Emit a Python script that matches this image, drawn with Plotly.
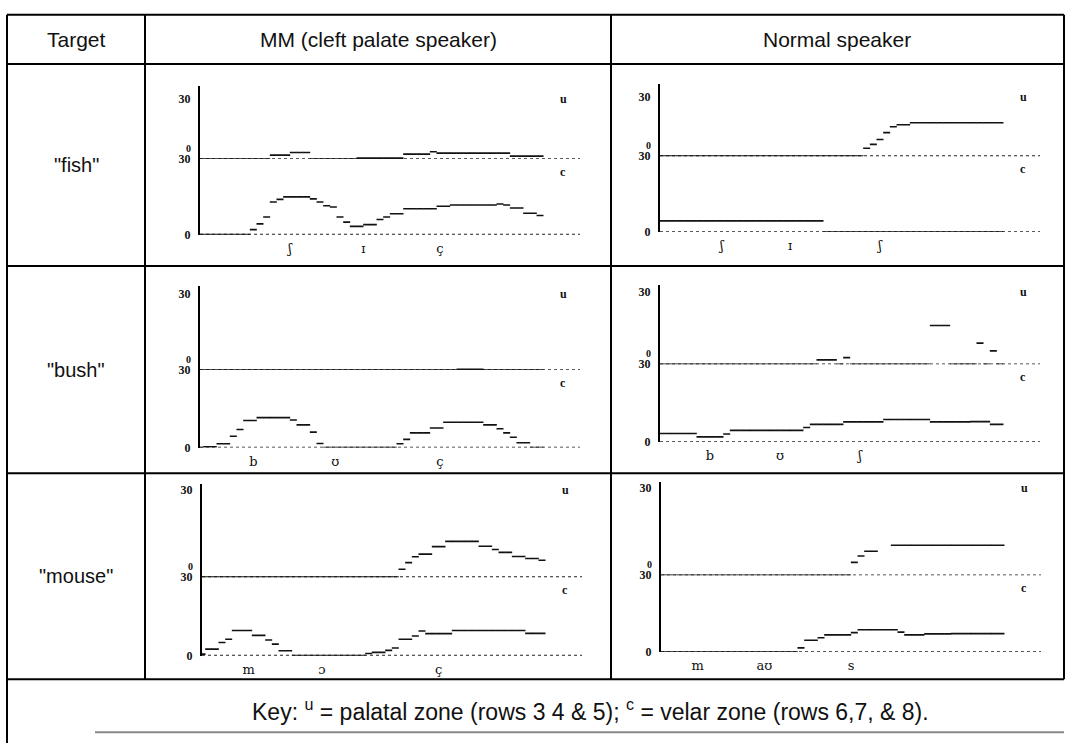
import plotly.graph_objects as go

W, H = 1068, 750

# ---------------- text ----------------
header_target = "Target"
speakers = ["MM (cleft palate speaker)", "Normal speaker"]
targets = ['"fish"', '"bush"', '"mouse"']
key_text = "Key: <sup>u</sup> = palatal zone (rows 3 4 & 5); <sup>c</sup> = velar zone (rows 6,7, & 8)."
zone_symbols = ["u", "c"]
y_tick_vals = [0, 30]
y_tick_text = ["0", "30"]

# ---------------- data: contacts per frame (0-30 scale) ----------------
fish_mm_palatal = [0, 0, 0, 0, 0, 0, 0, 0, 0, 0, 0, 2, 2, 2, 3.3, 3.3, 3.3, 0, 0, 0, 0, 0, 0, 0,
                   0.5, 0.5, 0.5, 0.5, 0.5, 0.5, 0.5, 2.5, 2.5, 2.5, 2.5, 3.7, 3, 3, 3, 3, 3, 3, 3, 3,
                   3, 3, 3, 1.5, 1.5, 1.5, 1.5, 1.5]
fish_mm_velar = [0, 0, 0, 0, 0, 0, 0, 0, 2, 4.3, 7, 13, 14, 15, 15, 15, 15, 14.2, 13, 11.5, 11, 7,
                 5, 3.3, 3.3, 4, 4, 6, 7, 8.3, 8.3, 10.3, 10.3, 10.3, 10.3, 10.3, 11.3, 11.3, 11.8,
                 11.8, 11.8, 11.8, 11.8, 11.8, 11.8, 12.2, 11.8, 10.6, 10.6, 8.5, 8.5, 7.6]
fish_n_palatal = [0, 0, 0, 0, 0, 0, 0, 0, 0, 0, 0, 0, 0, 0, 0, 0, 0, 0, 0, 0, 0, 0, 0, 0, 0, 0, 0,
                  0, 0, 0, 0, 4, 6, 8.5, 12, 15, 16, 16, 17, 17, 17, 17, 17, 17, 17, 17, 17, 17, 17,
                  17, 17, 17]
fish_n_velar = [4.3, 4.3, 4.3, 4.3, 4.3, 4.3, 4.3, 4.3, 4.3, 4.3, 4.3, 4.3, 4.3, 4.3, 4.3, 4.3, 4.3,
                4.3, 4.3, 4.3, 4.3, 4.3, 4.3, 4.3, 4.3, 0, 0, 0, 0, 0, 0, 0, 0, 0, 0, 0, 0, 0, 0, 0,
                0, 0, 0, 0, 0, 0, 0, 0, 0, 0, 0, 0]
bush_mm_palatal = [0, 0, 0, 0, 0, 0, 0, 0, 0, 0, 0, 0, 0, 0, 0, 0, 0, 0, 0, 0, 0, 0, 0, 0, 0, 0,
                   0, 0, 0, 0, 0, 0, 0, 0, 0, 0, 0, 0, 0, 0.3, 0.3, 0.3, 0.3, 0, 0, 0, 0, 0, 0, 0,
                   0, 0]
bush_mm_velar = [0, 0.3, 0.3, 1.5, 1.5, 4.4, 7, 10.5, 10.5, 11.6, 11.6, 11.6, 11.6, 11.6, 10.7, 8.8,
                 8.8, 6, 1.6, 0, 0, 0, 0, 0, 0, 0, 0, 0, 0, 0, 1.5, 3.2, 5.7, 5.7, 5.7, 7.6, 7.6,
                 9.8, 9.8, 9.8, 9.8, 9.8, 9.8, 8.8, 8.8, 7.3, 5.7, 4, 1.9, 1.9, 0, 0]
bush_n_palatal = [0, 0, 0, 0, 0, 0, 0, 0, 0, 0, 0, 0, 0, 0, 0, 0, 0, 0, 0, 0, 0, 0, 0, 0, 1.8, 1.8,
                  1.8, 0, 2.7, 0, 0, 0, 0, 0, 0, 0, 0, 0, 0, 0, 0, 16, 16, 16, 0, 0, 0, 0, 8.7, 0,
                  5.5, 0]
bush_n_velar = [3.2, 3.2, 3.2, 3.2, 3.2, 3.2, 1.9, 1.9, 1.9, 1.9, 3, 4.4, 4.4, 4.4, 4.4, 4.4, 4.4,
                4.4, 4.4, 4.4, 4.4, 4.4, 5.5, 6.7, 6.7, 6.7, 6.7, 6.7, 7.7, 7.7, 7.7, 7.7, 7.7, 7.7,
                8.6, 8.6, 8.6, 8.6, 8.6, 8.6, 8.6, 7.7, 7.7, 7.7, 7.7, 7.7, 7.7, 7.8, 7.8, 7.8,
                6.7, 6.7]
mouse_mm_palatal = [0, 0, 0, 0, 0, 0, 0, 0, 0, 0, 0, 0, 0, 0, 0, 0, 0, 0, 0, 0, 0, 0, 0, 0, 0, 0,
                    0, 0, 0, 0, 2.7, 5, 7, 7.9, 7.9, 10.5, 10.5, 12.3, 12.3, 12.3, 12.3, 12.3, 10.6,
                    10.6, 9.5, 8.5, 8.5, 7.1, 7.1, 6.4, 6.4, 5.8]
mouse_mm_velar = [0.6, 2.5, 2.5, 5, 6.25, 9.6, 9.6, 9.6, 7.75, 7.75, 6, 4.4, 1.9, 1.9, 0, 0, 0, 0,
                  0, 0, 0, 0, 0, 0, 0, 0.8, 1.25, 1.25, 2, 2.9, 6.25, 6.25, 7.5, 9.4, 8.4, 8.4, 8.4,
                  8.4, 9.6, 9.6, 9.6, 9.6, 9.6, 9.6, 9.6, 9.6, 9.6, 9.6, 9.6, 8.5, 8.5, 8.5]
mouse_n_palatal = [0, 0, 0, 0, 0, 0, 0, 0, 0, 0, 0, 0, 0, 0, 0, 0, 0, 0, 0, 0, 0, 0, 0, 0, 0, 0, 0,
                   0, 0, 4.4, 6.6, 8.2, 8.2, None, None, 10.3, 10.3, 10.3, 10.3, 10.3, 10.3, 10.3,
                   10.3, 10.3, 10.3, 10.3, 10.3, 10.3, 10.3, 10.3, 10.3, 10.3]
mouse_n_velar = [0, 0, 0, 0, 0, 0, 0, 0, 0, 0, 0, 0, 0, 0, 0, 0, 0, 0, 0, 0, 0, 1.5, 4.5, 4.5, 5.5,
                 6.6, 6.6, 6.6, 6.6, 7.5, 8.6, 8.6, 8.6, 8.6, 8.6, 8.6, 7.7, 6.6, 6.6, 6.6, 7, 7, 7,
                 7, 7.1, 7.1, 7.1, 7.1, 7.1, 7.1, 7.1, 7.1]

# phone labels (x-axis tick labels, in frames)
fish_mm_phones = ["ʃ", "ɪ", "ç"]
fish_mm_phone_frames = [13.5, 24.5, 36]
fish_n_phones = ["ʃ", "ɪ", "ʃ"]
fish_n_phone_frames = [9.25, 19.5, 33]
bush_mm_phones = ["b", "ʊ", "ç"]
bush_mm_phone_frames = [8, 20.3, 36]
bush_n_phones = ["b", "ʊ", "ʃ"]
bush_n_phone_frames = [7.5, 18, 30]
mouse_mm_phones = ["m", "ɔ", "ç"]
mouse_mm_phone_frames = [7, 18, 35.5]
mouse_n_phones = ["m", "aʊ", "s"]
mouse_n_phone_frames = [5.5, 15.5, 28.5]

panels_data = [
    (fish_mm_palatal, fish_mm_velar, fish_mm_phones, fish_mm_phone_frames),
    (fish_n_palatal, fish_n_velar, fish_n_phones, fish_n_phone_frames),
    (bush_mm_palatal, bush_mm_velar, bush_mm_phones, bush_mm_phone_frames),
    (bush_n_palatal, bush_n_velar, bush_n_phones, bush_n_phone_frames),
    (mouse_mm_palatal, mouse_mm_velar, mouse_mm_phones, mouse_mm_phone_frames),
    (mouse_n_palatal, mouse_n_velar, mouse_n_phones, mouse_n_phone_frames),
]

# ---------------- layout geometry (pixels) ----------------
# axis x, axis top, y of upper "30", y of middle line, y of bottom 0
geom = [
    (200, 80, 94, 155, 232),
    (660, 78, 92, 152, 229),
    (200, 284, 292, 370, 449),
    (660, 283, 290, 364, 443),
    (202, 486, 492, 581, 661),
    (661, 484, 490, 579, 657),
]
FRAME_PX = 20 / 3
XMAX = 57

def px(x):
    return x / W

def py(y):
    return 1 - y / H

fig = go.Figure()
layout = dict(
    width=W, height=H, margin=dict(l=0, r=0, t=0, b=0),
    paper_bgcolor="white", plot_bgcolor="rgba(0,0,0,0)", showlegend=False,
)
annotations = []
shapes = []
LBL_FONT = dict(family="Liberation Serif", size=12, color="#111", weight="bold")
SYM_FONT = dict(family="Liberation Serif", size=12, color="#111", weight="bold")

for k, ((pal, vel, phones, pframes), (ax, ytop, y30, ymid, y0)) in enumerate(zip(panels_data, geom)):
    xi = k + 1
    yu = 2 * k + 1
    yl = 2 * k + 2
    xname = "x" if xi == 1 else f"x{xi}"
    yuname = "y" if yu == 1 else f"y{yu}"
    ylname = f"y{yl}"
    frames = list(range(len(pal)))
    layout[f"xaxis{'' if xi == 1 else xi}"] = dict(
        domain=[px(ax), px(ax + XMAX * FRAME_PX)], range=[0, XMAX], anchor=ylname,
        showgrid=False, zeroline=False, showline=False, ticks="",
        tickvals=pframes, ticktext=phones, ticklabelstandoff=4,
        tickfont=dict(family="DejaVu Serif", size=13, color="#111"),
    )
    upper_top = 30 * (ymid - ytop) / (ymid - y30)
    layout[f"yaxis{'' if yu == 1 else yu}"] = dict(
        domain=[py(ymid), py(ytop)], range=[0, upper_top], anchor=xname,
        showgrid=False, zeroline=False, showline=True, linecolor="black", linewidth=2,
        ticks="", tickvals=[y_tick_vals[1]], ticktext=[y_tick_text[1]], tickfont=LBL_FONT,
        ticklabelstandoff=5,
    )
    layout[f"yaxis{yl}"] = dict(
        domain=[py(y0), py(ymid)], range=[0, 30], anchor=xname,
        showgrid=False, zeroline=False, showline=True, linecolor="black", linewidth=2,
        ticks="", tickvals=y_tick_vals, ticktext=y_tick_text, tickfont=LBL_FONT,
        ticklabelstandoff=5,
    )
    # upper zone zero label (stacked above the lower zone's 30)
    annotations.append(dict(
        text="0", xref=f"{xname} domain", yref=yuname, x=0, y=0, xanchor="right",
        yanchor="bottom", xshift=-7, yshift=3, showarrow=False,
        font=dict(family="Liberation Serif", size=10, color="#111", weight="bold")))
    # zone symbols
    annotations.append(dict(
        text=zone_symbols[0], xref=xname, yref=yuname, x=54.5, y=30, showarrow=False,
        font=SYM_FONT))
    annotations.append(dict(
        text=zone_symbols[1], xref=xname, yref=ylname, x=54.5, y=25, showarrow=False,
        font=SYM_FONT))
    # baselines (dotted)
    for yn in (yuname, ylname):
        fig.add_trace(go.Scatter(
            x=[0, XMAX], y=[0, 0], xaxis=xname, yaxis=yn, mode="lines",
            line=dict(color="#222", width=1.6, dash="dot"), hoverinfo="skip"))
    # data (short horizontal dashes per frame)
    for series, yn in ((pal, yuname), (vel, ylname)):
        fig.add_trace(go.Scatter(
            x=frames, y=series, xaxis=xname, yaxis=yn, mode="markers",
            marker=dict(symbol="line-ew", size=5, line=dict(color="#111", width=1.6)),
            hoverinfo="skip"))

# ---------------- table grid ----------------
LEFT, RIGHT, TOP = 7, 1064, 8
COL1, COL2 = 145, 611
ROWS = [58, 264, 475, 685]
BOTTOM_TABLE = ROWS[-1]

def line(x0, y0, x1, y1, color="black", width=2):
    shapes.append(dict(type="line", xref="paper", yref="paper", x0=px(x0), y0=py(y0),
                       x1=px(x1), y1=py(y1), line=dict(color=color, width=width)))

line(LEFT, TOP, RIGHT, TOP)
for r in ROWS:
    line(LEFT, r, RIGHT, r)
line(LEFT, TOP, LEFT, H)
line(COL1, TOP, COL1, BOTTOM_TABLE)
line(COL2, TOP, COL2, BOTTOM_TABLE)
line(RIGHT, TOP, RIGHT, BOTTOM_TABLE)
line(95, 739, RIGHT, 739, color="#888", width=2)

HFONT = dict(family="Liberation Sans, Arial", size=21, color="#111")
RFONT = dict(family="Liberation Sans, Arial", size=20, color="#111")
KFONT = dict(family="Liberation Sans, Arial", size=23, color="#111")

def txt(s, x, y, font):
    annotations.append(dict(text=s, xref="paper", yref="paper", x=px(x), y=py(y),
                            showarrow=False, xanchor="center", yanchor="middle", font=font))

txt(header_target, (LEFT + COL1) / 2, (TOP + ROWS[0]) / 2, HFONT)
txt(speakers[0], (COL1 + COL2) / 2, (TOP + ROWS[0]) / 2, HFONT)
txt(speakers[1], (COL2 + RIGHT) / 2, (TOP + ROWS[0]) / 2, HFONT)
for i, t in enumerate(targets):
    txt(t, (LEFT + COL1) / 2, (ROWS[i] + ROWS[i + 1]) / 2, RFONT)
txt(key_text, 590, 716, KFONT)

layout["annotations"] = annotations
layout["shapes"] = shapes
fig.update_layout(**layout)
fig.write_html("out.html")
